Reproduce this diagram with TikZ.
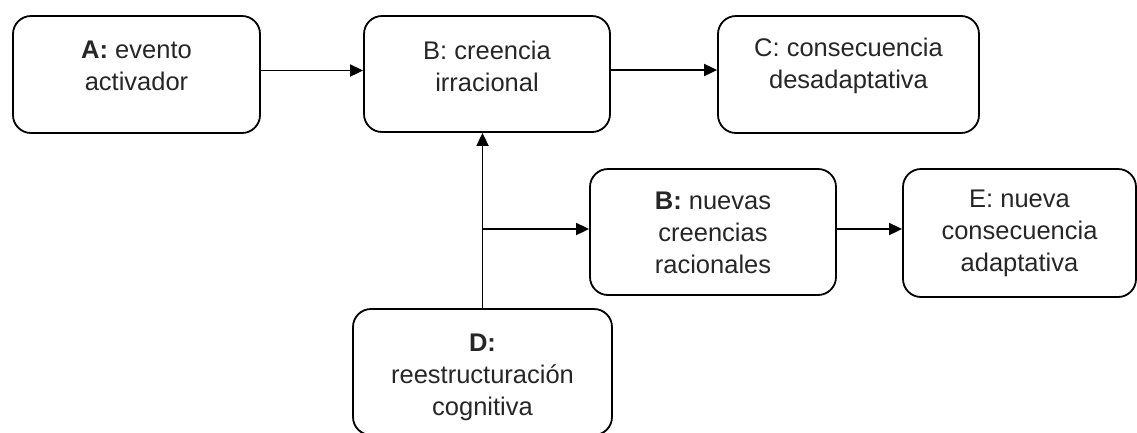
\documentclass[tikz,border=0pt]{standalone}
\usepackage{fontspec}
\setmainfont{Liberation Sans}
\usetikzlibrary{arrows.meta}
\tikzset{
  box/.style={draw,line width=1.8pt,rounded corners=18pt,inner sep=0pt},
  txt/.style={align=center,inner sep=0pt,text=black!85,font=\fontsize{25.5}{32}\selectfont},
  conn/.style={line width=1.8pt,-{Triangle[length=13pt,width=12pt]}}
}
\begin{document}
\begin{tikzpicture}[x=1pt,y=-1pt]
  \clip (0,0) rectangle (1137,432);
  \node[box,minimum width=247pt,minimum height=117pt] (a) at (136.5,74.5) {};
  \node[box,minimum width=246pt,minimum height=116pt] (b) at (487,74) {};
  \node[box,minimum width=261pt,minimum height=117pt] (c) at (848.5,74.5) {};
  \node[box,minimum width=246pt,minimum height=126pt] (bn) at (713,232) {};
  \node[box,minimum width=233pt,minimum height=128pt] (e) at (1019.5,233) {};
  \node[box,minimum width=259pt,minimum height=126pt] (d) at (482.5,372) {};
  \node[txt] (a-txt) at (136.5,66) {\textbf{A:} evento\\activador};
  \node[txt] (b-txt) at (487,66) {B: creencia\\irracional};
  \node[txt] (c-txt) at (848.5,66) {C: consecuencia\\desadaptativa};
  \node[txt] (bn-txt) at (713,233) {\textbf{B:} nuevas\\creencias\\racionales};
  \node[txt] (e-txt) at (1019.5,233) {E: nueva\\consecuencia\\adaptativa};
  \node[txt] (d-txt) at (482.5,377) {\textbf{D:}\\reestructuración\\cognitiva};
  \coordinate (fork) at (d.north |- 0,229);
  \draw[conn] ([yshift=4pt]a.east) -- ([yshift=4pt]a.east -| b.west);
  \draw[conn] ([yshift=4pt]b.east) -- ([yshift=4pt]b.east -| c.west);
  \draw[conn] (d.north) -- (d.north |- b.south);
  \draw[conn] (fork) -- (fork -| bn.west);
  \draw[conn] (bn.east |- fork) -- (e.west |- fork);
\end{tikzpicture}
\end{document}
